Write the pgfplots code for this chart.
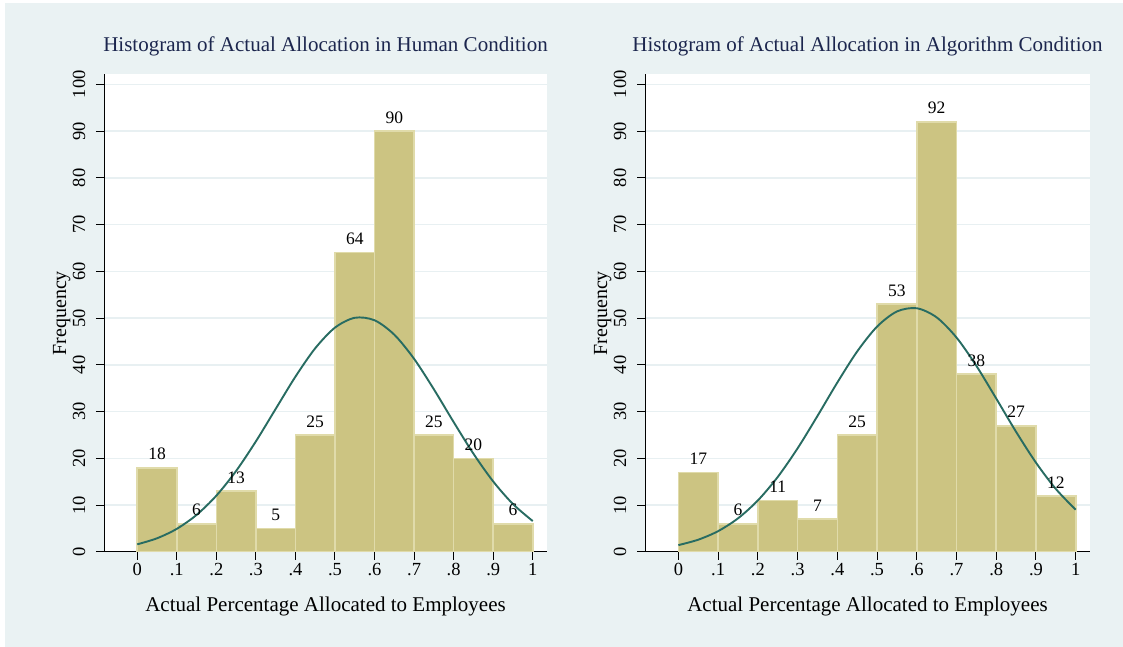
\documentclass[border=0pt]{standalone}
\usepackage{fontspec}
\setmainfont{Liberation Serif}
\usepackage{pgfplots}
\pgfplotsset{compat=1.18}

\definecolor{statabg}{RGB}{234,242,243}
\definecolor{barfill}{RGB}{204,196,130}
\definecolor{baredge}{RGB}{224,219,170}
\definecolor{fitline}{RGB}{40,108,98}
\definecolor{titlecol}{RGB}{28,38,78}
\definecolor{gridcol}{RGB}{232,240,242}

\pgfplotsset{
  histpanel/.style={
    scale only axis, height=477.5pt,
    xmin=-0.084, xmax=1.036, ymin=0, ymax=102.1,
    axis x line*=bottom, axis y line*=left,
    axis line style={black, line width=1pt},
    axis background/.style={fill=white},
    xtick={0,0.1,0.2,0.3,0.4,0.5,0.6,0.7,0.8,0.9,1},
    xticklabels={0,.1,.2,.3,.4,.5,.6,.7,.8,.9,1},
    ytick={0,10,20,30,40,50,60,70,80,90,100},
    tick align=outside, major tick length=8pt,
    tick style={black, line width=1pt},
    ymajorgrids, grid style={gridcol, line width=1.5pt},
    /pgf/number format/assume math mode=true,
    tick label style={font=\fontsize{18.5}{22}\selectfont},
    yticklabel style={xshift=-17pt, rotate=90, anchor=center},
    xlabel={Actual Percentage Allocated to Employees},
    ylabel={Frequency},
    every axis x label/.style={at={(axis description cs:0.5,0)}, anchor=base,
      yshift=-59.7pt, font=\fontsize{21}{25}\selectfont},
    every axis y label/.style={at={([xshift=-38pt]axis description cs:0,0.5)},
      rotate=90, anchor=base, font=\fontsize{20}{24}\selectfont},
    every axis title/.style={at={(axis description cs:0.5,1)}, anchor=base,
      yshift=22.5pt, font=\fontsize{21}{25}\selectfont, text=titlecol},
  },
  histbars/.style={
    ybar, bar width=0.1, bar shift=0pt,
    fill=barfill, draw=baredge, line width=1.6pt,
    nodes near coords,
    nodes near coords style={font=\fontsize{17.5}{21}\selectfont, text=black,
      anchor=south, inner sep=0pt, yshift=7pt},
  },
  fitcurve/.style={fitline, line width=1.9pt, smooth, mark=none},
}

\begin{document}
\begin{tikzpicture}
\fill[white] (0pt,0pt) rectangle (1123pt,647pt);
\fill[statabg] (5pt,0pt) rectangle (1123pt,644pt);

% Human condition
\begin{axis}[histpanel, width=443pt, at={(104pt,95pt)}, anchor=south west,
  title={Histogram of Actual Allocation in Human Condition}]
\addplot[histbars] coordinates {
  (0.05,18) (0.15,6) (0.25,13) (0.35,5) (0.45,25)
  (0.55,64) (0.65,90) (0.75,25) (0.85,20) (0.95,6)};
\addplot[fitcurve] coordinates {
  (0,1.64) (0.05,2.93) (0.1,4.95) (0.15,7.93) (0.2,12.04) (0.25,17.33)
  (0.3,23.65) (0.35,30.59) (0.4,37.49) (0.45,43.56) (0.5,47.98)
  (0.55,50.08) (0.6,49.55) (0.65,46.46) (0.7,41.30) (0.75,34.79)
  (0.8,27.78) (0.85,21.02) (0.9,15.08) (0.95,10.25) (1,6.61)};
\end{axis}

% Algorithm condition
\begin{axis}[histpanel, width=445pt, at={(645pt,95pt)}, anchor=south west,
  title={Histogram of Actual Allocation in Algorithm Condition}]
\addplot[histbars] coordinates {
  (0.05,17) (0.15,6) (0.25,11) (0.35,7) (0.45,25)
  (0.55,53) (0.65,92) (0.75,38) (0.85,27) (0.95,12)};
\addplot[fitcurve] coordinates {
  (0,1.47) (0.05,2.63) (0.1,4.46) (0.15,7.19) (0.2,11.02) (0.25,16.04)
  (0.3,22.16) (0.35,29.08) (0.4,36.23) (0.45,42.88) (0.5,48.19)
  (0.55,51.43) (0.6,52.12) (0.65,50.17) (0.7,45.85) (0.75,39.80)
  (0.8,32.81) (0.85,25.69) (0.9,19.10) (0.95,13.48) (1,9.04)};
\end{axis}
\end{tikzpicture}
\end{document}
